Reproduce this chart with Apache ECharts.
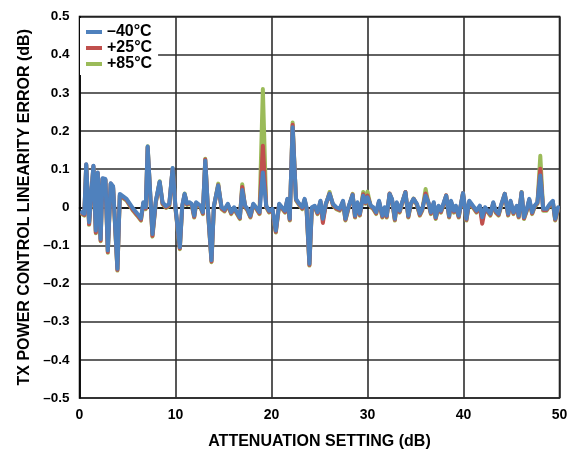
<!DOCTYPE html>
<html><head><meta charset="utf-8">
<script src="https://cdn.jsdelivr.net/npm/echarts@6/dist/echarts.min.js"></script>
<style>html,body{margin:0;padding:0;background:#fff}#c{width:574px;height:455px}</style>
</head><body><div id="c"></div>
<script>
const attenuation = [
 0.25,0.5,0.7,1.0,1.45,1.7,1.9,2.2,2.4,2.7,
 2.95,3.25,3.5,3.95,4.2,4.9,5.6,6.0,6.4,6.65,
 6.9,7.1,7.6,7.95,8.35,8.65,9.0,9.35,9.7,10.0,
 10.45,10.7,10.95,11.2,11.45,11.7,11.95,12.15,12.35,12.6,
 12.85,13.1,13.4,13.75,14.0,14.45,14.8,15.1,15.45,15.8,
 16.1,16.4,16.7,16.95,17.25,17.5,17.8,18.1,18.4,18.75,
 19.1,19.45,19.75,20.1,20.45,20.8,21.1,21.4,21.65,21.9,
 22.2,22.55,22.9,23.2,23.45,23.65,23.95,24.2,24.5,24.8,
 25.1,25.35,25.65,26.05,26.4,26.75,27.1,27.45,27.7,28.0,
 28.45,28.7,28.95,29.2,29.55,29.8,30.0,30.35,30.6,30.9,
 31.2,31.55,31.8,32.0,32.3,32.55,32.85,33.05,33.35,33.6,
 33.95,34.25,34.5,34.8,35.15,35.45,35.7,36.05,36.35,36.6,
 36.9,37.1,37.4,37.65,37.95,38.2,38.5,38.7,39.0,39.2,
 39.5,39.95,40.3,40.6,40.8,41.1,41.35,41.7,41.95,42.25,
 42.55,42.8,43.1,43.35,43.65,43.95,44.3,44.65,44.9,45.2,
 45.55,45.75,46.05,46.3,46.6,46.85,47.15,47.4,47.7,48.0,
 48.3,48.65,49.0,49.3,49.55,49.85
];
const errMinus40 = [
 -0.013,-0.017,0.113,-0.039,0.109,-0.061,0.091,-0.083,0.076,0.074,
 -0.113,0.063,0.055,-0.161,0.035,0.022,-0.004,-0.016,-0.029,0.013,
 0.0,0.159,-0.07,0.017,0.067,0.013,0.003,0.009,0.103,0.0,
 -0.105,0.004,0.035,0.01,0.013,0.009,-0.022,0.013,0.009,0.004,
 -0.013,0.122,-0.013,-0.139,0.004,0.057,0.0,-0.006,0.009,-0.013,
 0.0,-0.013,-0.026,0.045,0.004,-0.004,-0.022,0.009,0.0,-0.013,
 0.091,0.004,-0.009,-0.004,-0.061,0.009,0.0,-0.009,0.022,-0.03,
 0.21,0.022,0.009,0.0,0.022,0.0,-0.148,0.0,0.004,-0.013,
 0.017,-0.03,0.009,0.035,0.009,0.0,-0.004,0.017,-0.03,0.0,
 0.032,-0.022,0.013,-0.017,0.03,0.013,0.026,0.004,0.0,-0.013,
 0.017,-0.022,0.0,-0.022,0.035,0.022,-0.03,0.013,-0.009,0.013,
 0.039,-0.022,0.009,0.022,0.009,-0.017,-0.004,0.03,0.013,-0.013,
 0.013,-0.026,0.004,-0.009,0.013,0.03,-0.022,0.017,-0.009,0.004,
 -0.022,0.037,-0.03,0.017,0.017,0.0,-0.009,0.004,-0.026,0.0,
 -0.009,-0.017,0.013,-0.009,-0.017,0.009,0.035,-0.017,0.017,-0.013,
 0.004,-0.022,0.039,-0.026,-0.004,0.022,-0.013,0.004,0.013,0.083,
 -0.004,-0.004,0.009,0.017,-0.03,0.0
];
const errPlus25 = [
 -0.016,-0.02,0.112,-0.044,0.108,-0.066,0.09,-0.087,0.075,0.072,
 -0.117,0.062,0.053,-0.164,0.032,0.019,-0.008,-0.02,-0.033,0.011,
 -0.003,0.157,-0.075,0.014,0.065,0.01,0.0,0.006,0.101,-0.003,
 -0.108,0.002,0.033,0.008,0.011,0.007,-0.025,0.011,0.007,0.002,
 -0.016,0.125,-0.016,-0.142,0.002,0.058,-0.003,-0.009,0.007,-0.016,
 -0.002,-0.016,-0.029,0.053,0.002,-0.007,-0.025,0.007,-0.002,-0.016,
 0.161,0.002,-0.012,-0.007,-0.064,0.007,-0.002,-0.012,0.02,-0.033,
 0.216,0.02,0.007,-0.003,0.02,-0.003,-0.151,-0.003,0.002,-0.016,
 0.015,-0.041,0.007,0.036,0.007,-0.003,-0.007,0.015,-0.033,-0.003,
 0.033,-0.025,0.011,-0.02,0.034,0.011,0.031,0.002,-0.003,-0.016,
 0.015,-0.025,-0.003,-0.025,0.036,0.02,-0.033,0.011,-0.012,0.011,
 0.04,-0.025,0.007,0.022,0.007,-0.02,-0.007,0.036,0.011,-0.016,
 0.011,-0.029,0.002,-0.012,0.011,0.031,-0.025,0.015,-0.012,0.002,
 -0.025,0.037,-0.033,0.015,0.015,-0.003,-0.012,0.002,-0.043,-0.003,
 -0.012,-0.02,0.011,-0.012,-0.02,0.007,0.035,-0.02,0.015,-0.016,
 0.002,-0.025,0.039,-0.029,-0.007,0.02,-0.016,0.002,0.011,0.101,
 -0.007,-0.007,0.007,0.015,-0.033,-0.003
];
const errPlus85 = [
 -0.018,-0.022,0.11,-0.046,0.106,-0.068,0.088,-0.089,0.073,0.07,
 -0.119,0.06,0.05,-0.166,0.03,0.017,-0.01,-0.022,-0.035,0.009,
 -0.005,0.16,-0.077,0.012,0.068,0.008,-0.002,0.004,0.102,-0.005,
 -0.11,0.0,0.036,0.006,0.009,0.005,-0.027,0.009,0.005,0.0,
 -0.018,0.127,-0.018,-0.144,0.0,0.062,-0.005,-0.011,0.005,-0.018,
 -0.004,-0.018,-0.031,0.06,0.0,-0.009,-0.027,0.005,-0.004,-0.018,
 0.31,0.0,-0.014,-0.009,-0.066,0.005,-0.004,-0.014,0.018,-0.035,
 0.222,0.018,0.005,-0.005,0.018,-0.005,-0.153,-0.005,0.0,-0.018,
 0.013,-0.033,0.005,0.04,0.005,-0.005,-0.009,0.013,-0.035,-0.005,
 0.035,-0.027,0.009,-0.022,0.04,0.009,0.041,0.0,-0.005,-0.018,
 0.013,-0.027,-0.005,-0.027,0.036,0.018,-0.035,0.009,-0.014,0.009,
 0.04,-0.027,0.005,0.023,0.005,-0.022,-0.009,0.048,0.009,-0.018,
 0.009,-0.031,0.0,-0.014,0.009,0.031,-0.027,0.013,-0.014,0.0,
 -0.027,0.037,-0.035,0.013,0.013,-0.005,-0.014,0.0,-0.032,-0.005,
 -0.014,-0.022,0.009,-0.014,-0.022,0.005,0.035,-0.022,0.013,-0.018,
 0.0,-0.027,0.04,-0.031,-0.009,0.018,-0.018,0.0,0.009,0.135,
 -0.009,-0.009,0.005,0.013,-0.035,-0.005
];
const seriesNames = ['\u201340\u00B0C', '+25\u00B0C', '+85\u00B0C'];
const yTickLabels = ['\u20130.5','\u20130.4','\u20130.3','\u20130.2','\u20130.1','0','0.1','0.2','0.3','0.4','0.5'];
const xTickLabels = ['0','10','20','30','40','50'];

const FONT = '"Liberation Sans", Arial, sans-serif';
const chart = echarts.init(document.getElementById('c'), null, {renderer: 'canvas'});
const toPairs = arr => attenuation.map((x, i) => [x, arr[i]]);
const mkSeries = (name, arr, color, z) => ({
  name, type: 'line', data: toPairs(arr), showSymbol: false, symbol: 'none',
  lineStyle: {color, width: 4, join: 'round', cap: 'round'}, itemStyle: {color}, z
});
chart.setOption({
  animation: false,
  grid: {left: 79.5, top: 16.5, width: 480, height: 385, show: true, borderColor: '#000', borderWidth: 1.5, backgroundColor: 'transparent'},
  legend: {
    orient: 'vertical', left: 80, top: 18, padding: [6, 6, 3, 6], itemGap: 0,
    backgroundColor: '#fff', icon: 'rect', itemWidth: 16, itemHeight: 4,
    data: seriesNames,
    textStyle: {fontFamily: FONT, fontWeight: 'bold', fontSize: 16, color: '#000', lineHeight: 15}
  },
  xAxis: {
    type: 'value', min: 0, max: 50, interval: 10,
    axisLine: {lineStyle: {color: '#000', width: 1.5}}, axisTick: {show: false},
    splitLine: {lineStyle: {color: '#2e2e2e', width: 1.6}},
    axisLabel: {margin: 10, fontFamily: FONT, fontWeight: 'bold', fontSize: 14, color: '#000',
      formatter: v => xTickLabels[Math.round(v / 10)]},
    name: 'ATTENUATION SETTING (dB)', nameLocation: 'middle', nameGap: 36,
    nameTextStyle: {fontFamily: FONT, fontWeight: 'bold', fontSize: 16, color: '#000'}
  },
  yAxis: {
    type: 'value', min: -0.5, max: 0.5, interval: 0.1,
    axisLine: {lineStyle: {color: '#000', width: 1.5}}, axisTick: {show: false},
    splitLine: {lineStyle: {color: '#2e2e2e', width: 1.6}},
    axisLabel: {margin: 10, fontFamily: FONT, fontWeight: 'bold', fontSize: 13.5, color: '#000',
      formatter: v => yTickLabels[Math.round((v + 0.5) * 10)]},
    name: 'TX POWER CONTROL LINEARITY ERROR (dB)', nameLocation: 'middle', nameGap: 45,
    nameTextStyle: {fontFamily: FONT, fontWeight: 'bold', fontSize: 16, color: '#000'}
  },
  series: [
    mkSeries(seriesNames[2], errPlus85, '#9bbb59', 2),
    mkSeries(seriesNames[1], errPlus25, '#c0504d', 3),
    mkSeries(seriesNames[0], errMinus40, '#4f81bd', 4)
  ]
});
</script></body></html>
